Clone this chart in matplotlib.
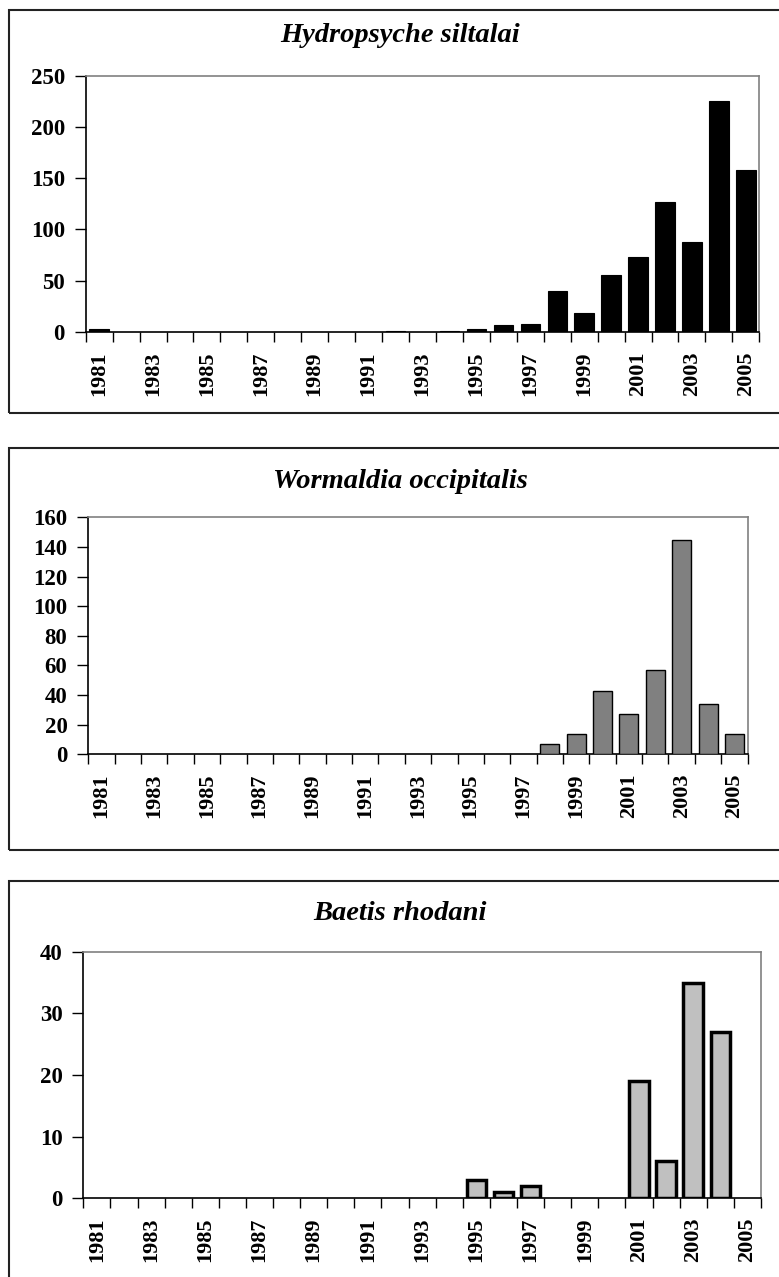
import matplotlib.pyplot as plt
from matplotlib.patches import Rectangle
import numpy as np

years = list(range(1981, 2006))

# Hydropsyche siltalai
hydropsyche = [3, 0, 0, 0, 0, 0, 0, 0, 0, 0, 0, 1, 0, 1, 3, 7, 8, 40, 18, 55, 73, 127, 88, 226, 158]
# Wormaldia occipitalis
wormaldia = [0, 0, 0, 0, 0, 0, 0, 0, 0, 0, 0, 0, 0, 0, 0, 0, 0, 7, 14, 43, 27, 57, 145, 34, 14]
# Baetis rhodani
baetis = [0, 0, 0, 0, 0, 0, 0, 0, 0, 0, 0, 0, 0, 0, 3, 1, 2, 0, 0, 0, 19, 6, 35, 27, 0]

titles = ["Hydropsyche siltalai", "Wormaldia occipitalis", "Baetis rhodani"]
yticks_list = [list(range(0, 251, 50)), list(range(0, 161, 20)), list(range(0, 41, 10))]

W, H = 779, 1277
fig = plt.figure(figsize=(W / 100, H / 100), dpi=100)
plt.rcParams['font.family'] = ['Liberation Serif', 'DejaVu Serif']

# axes boxes in pixels: left, top, right, bottom
ax_px = [(85.7, 76, 759.3, 331.7), (88.3, 517.3, 747.6, 754.3), (83.3, 951.7, 761, 1198.3)]
frames = [(9, 10, 413), (9, 447.7, 850), (9, 881, 1300)]
title_y = [35, 482, 913]
fills = ['black', '#808080', '#c0c0c0']
lws = [0.8, 1.0, 2.5]

def draw(i, values):
    l, t, r, b = ax_px[i]
    ax = fig.add_axes([l / W, 1 - b / H, (r - l) / W, (b - t) / H])
    x = np.arange(len(years))
    v = np.array(values)
    nz = v > 0
    ax.bar(x[nz], v[nz], width=0.72, color=fills[i], edgecolor='black', linewidth=lws[i], zorder=3)
    ax.set_xlim(-0.5, len(years) - 0.5)
    ax.set_ylim(0, yticks_list[i][-1])
    ax.set_yticks(yticks_list[i])
    ax.set_yticklabels([str(y) for y in yticks_list[i]], fontsize=16.5, fontweight='bold')
    ax.set_xticks(np.arange(-0.5, len(years), 1.0))
    ax.set_xticklabels([])
    ax.set_xticks(x[::2], minor=True)
    ax.set_xticklabels([str(y) for y in years[::2]], minor=True, rotation=90,
                       fontsize=16, fontweight='bold')
    ax.tick_params(axis='x', which='major', direction='out', length=7, width=1, color='black')
    ax.tick_params(axis='x', which='minor', length=0, pad=14)
    ax.tick_params(axis='y', direction='out', length=8, width=1, pad=7)
    for s in ['top', 'right']:
        ax.spines[s].set_color('#808080')
        ax.spines[s].set_linewidth(1.2)
    for s in ['left', 'bottom']:
        ax.spines[s].set_color('black')
        ax.spines[s].set_linewidth(1.2)
    # outer frame of each chart
    fx, ft, fb = frames[i]
    fig.patches.append(Rectangle((fx / W, 1 - fb / H), (W + 20 - fx) / W, (fb - ft) / H,
                                 transform=fig.transFigure, fill=False,
                                 edgecolor='#222222', linewidth=1.5))
    fig.text(400 / W, 1 - title_y[i] / H, titles[i], ha='center', va='center',
             fontsize=20.5, fontweight='bold', fontstyle='italic')

draw(0, hydropsyche)
draw(1, wormaldia)
draw(2, baetis)

fig.savefig('out.png', dpi=100)
